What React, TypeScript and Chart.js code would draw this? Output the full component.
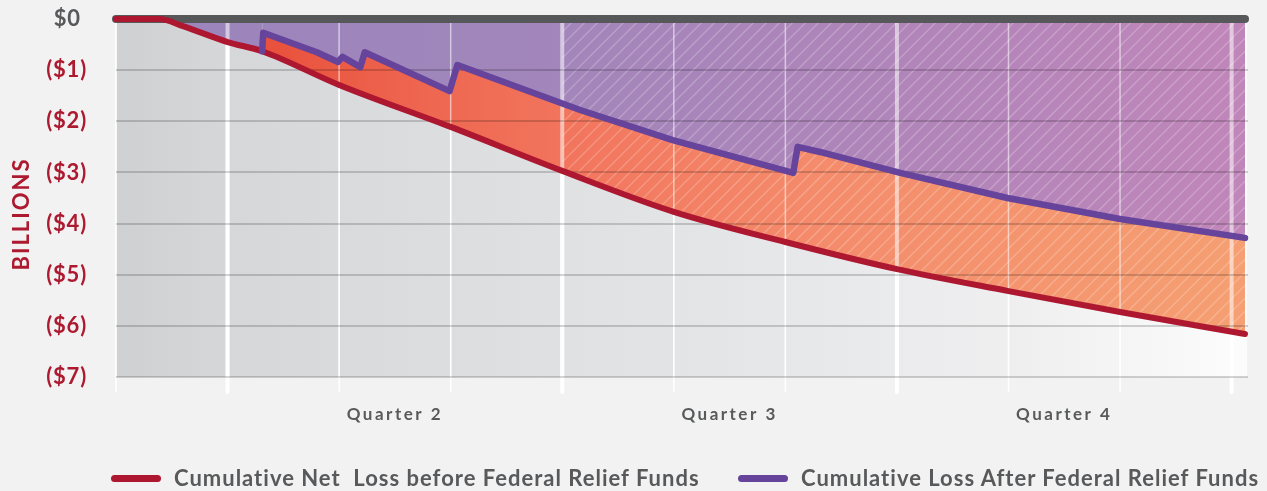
import React, { useEffect, useRef } from 'react';
import { Chart, registerables } from 'chart.js';

Chart.register(...registerables);

// ---- data (x = months from the start of the period, y = billions of dollars) ----
const RED_MONTHS = [0, 0.39, 0.6, 1.0, 1.31, 2.0, 3.0, 4.0, 5.0, 6.0, 7.0, 8.0, 9.0, 10.12];
const RED_VALUES = [0, 0, -0.14, -0.45, -0.63, -1.29, -2.11, -2.97, -3.77, -4.36, -4.89, -5.32, -5.73, -6.16];

const AFTER_MONTHS = [0, 0.39, 0.6, 1.0, 1.31, 1.32, 1.8, 1.99, 2.03, 2.19, 2.23, 2.99, 3.06, 4.16, 4.99, 6.07, 6.11, 6.31, 7.03, 7.99, 9.0, 10.12];
const AFTER_VALUES = [0, 0, -0.14, -0.45, -0.63, -0.27, -0.65, -0.84, -0.74, -0.94, -0.65, -1.41, -0.9, -1.78, -2.37, -3.01, -2.5, -2.6, -3.01, -3.5, -3.91, -4.28];
const AFTER_START = 1.31; // relief funds line becomes visible here

const ZERO_MONTHS = [0, 10.12];
const ZERO_VALUES = [0, 0];

const X_MAX = 10.12;
const Y_TICKS = [0, -1, -2, -3, -4, -5, -6, -7];
const QUARTER_POS = [2.5, 5.5, 8.5];
const QUARTER_LABELS = ['Quarter 2', 'Quarter 3', 'Quarter 4'];
const MONTH_LINES = [0, 1, 2, 3, 4, 5, 6, 7, 8, 9, 10];
const QUARTER_LINES = [1, 4, 7, 10];
const HATCH_FROM = 4;
const LEGEND_LABELS = ['Cumulative Net  Loss before Federal Relief Funds', 'Cumulative Loss After Federal Relief Funds'];

// ---- styles ----
const RED = '#ae1730';
const PURPLE = '#66449c';
const ZERO_GRAY = '#57585a';
const TEXT_GRAY = '#58595b';
const TEXT_RED = '#ad1a30';
const FONT = 'Lato, "Open Sans", sans-serif';

function gradient(chart: any, stops: [number, string][], fallback: string) {
  const a = chart.chartArea;
  if (!a) return fallback;
  const g = chart.ctx.createLinearGradient(a.left, 0, a.right, 0);
  stops.forEach(([o, c]) => g.addColorStop(o, c));
  return g;
}

function spaced(scale: any, method: string, spacing: string, shiftY = 0) {
  const key = '__spaced_' + method;
  if (scale[key]) return;
  scale[key] = true;
  const base = Object.getPrototypeOf(scale)[method];
  scale[method] = function (...args: any[]) {
    const c = this.ctx;
    c.save();
    c.letterSpacing = spacing;
    if (shiftY) c.translate(0, shiftY);
    base.apply(this, args);
    c.restore();
  };
}

const decorPlugin = {
  id: 'decor',
  beforeDraw(chart: any) {
    const { ctx, chartArea: a } = chart;
    const x = chart.scales.x;
    ctx.save();
    ctx.fillStyle = gradient(chart, [[0, '#cfd0d2'], [0.1, '#d6d7d9'], [0.5, '#e3e4e6'], [0.8, '#efeff0'], [1, '#fcfcfc']], '#e0e0e0');
    ctx.fillRect(a.left, a.top, a.right - a.left + 2, a.bottom - a.top);
    ctx.strokeStyle = '#ffffff';
    MONTH_LINES.forEach((m) => {
      const px = x.getPixelForValue(m);
      const thick = QUARTER_LINES.includes(m);
      ctx.lineWidth = thick ? 4 : 1.5;
      ctx.lineCap = thick ? 'round' : 'butt';
      ctx.beginPath();
      ctx.moveTo(px, a.top);
      ctx.lineTo(px, a.bottom + 15);
      ctx.stroke();
    });
    ctx.restore();
  },
  beforeDatasetsDraw(chart: any) {
    const { ctx, chartArea: a } = chart;
    const x = chart.scales.x;
    const y = chart.scales.y;
    const meta = chart.getDatasetMeta(1);
    const x0 = x.getPixelForValue(HATCH_FROM);
    const xEnd = x.getPixelForValue(X_MAX);
    // hatching over the filled areas (above the red line)
    ctx.save();
    ctx.beginPath();
    ctx.rect(x0, a.top, xEnd - x0, a.bottom - a.top);
    ctx.clip();
    ctx.beginPath();
    const pts = meta.data;
    ctx.moveTo(pts[0].x, a.top);
    ctx.lineTo(pts[0].x, pts[0].y);
    for (let i = 1; i < pts.length; i++) {
      const p0 = pts[i - 1];
      const p1 = pts[i];
      if (p0.cp2x !== undefined && p1.cp1x !== undefined) {
        ctx.bezierCurveTo(p0.cp2x, p0.cp2y, p1.cp1x, p1.cp1y, p1.x, p1.y);
      } else {
        ctx.lineTo(p1.x, p1.y);
      }
    }
    ctx.lineTo(pts[pts.length - 1].x, a.top);
    ctx.closePath();
    ctx.clip();
    ctx.strokeStyle = 'rgba(255,255,255,0.22)';
    ctx.lineWidth = 1.5;
    const H = a.bottom - a.top;
    for (let s = x0 - H; s < xEnd; s += 13) {
      ctx.beginPath();
      ctx.moveTo(s, a.bottom);
      ctx.lineTo(s + H, a.top);
      ctx.stroke();
    }
    ctx.restore();
    // vertical month lines over the fills
    ctx.save();
    ctx.beginPath();
    ctx.rect(a.left - 3, a.top, a.right - a.left + 6, a.bottom - a.top);
    ctx.clip();
    ctx.strokeStyle = 'rgba(255,255,255,0.55)';
    MONTH_LINES.forEach((m) => {
      const px = x.getPixelForValue(m);
      ctx.lineWidth = QUARTER_LINES.includes(m) ? 4 : 1.5;
      ctx.beginPath();
      ctx.moveTo(px, a.top);
      ctx.lineTo(px, a.bottom);
      ctx.stroke();
    });
    ctx.restore();
    // horizontal grid lines
    ctx.save();
    ctx.strokeStyle = 'rgba(0,0,0,0.17)';
    ctx.lineWidth = 2;
    Y_TICKS.filter((v) => v !== 0).forEach((v) => {
      const py = Math.round(y.getPixelForValue(v));
      ctx.beginPath();
      ctx.moveTo(a.left, py);
      ctx.lineTo(a.right + 3, py);
      ctx.stroke();
    });
    ctx.restore();
  },
};

const AFTER_START_INDEX = AFTER_MONTHS.indexOf(AFTER_START);

export default function App() {
  const ref = useRef<HTMLCanvasElement | null>(null);

  useEffect(() => {
    if (!ref.current) return;
    const chart = new Chart(ref.current, {
      type: 'line',
      data: {
        datasets: [
          {
            label: LEGEND_LABELS[1],
            data: AFTER_MONTHS.map((m, i) => ({ x: m, y: AFTER_VALUES[i] })),
            borderColor: PURPLE,
            borderWidth: 6.5,
            backgroundColor: (c: any) =>
              gradient(c.chart, [[0, '#9b85bb'], [0.3, '#9f86bb'], [0.5, '#a785ba'], [0.75, '#b385b9'], [1, '#c086b9']], '#a886bb'),
            fill: 'origin',
            order: 1,
            pointRadius: 0,
            borderCapStyle: 'round',
            borderJoinStyle: 'round',
            clip: false,
            segment: {
              borderColor: (c: any) => (c.p0DataIndex < AFTER_START_INDEX ? 'rgba(0,0,0,0)' : PURPLE),
            },
          } as any,
          {
            label: LEGEND_LABELS[0],
            data: RED_MONTHS.map((m, i) => ({ x: m, y: RED_VALUES[i] })),
            borderColor: RED,
            borderWidth: 6,
            backgroundColor: (c: any) =>
              gradient(c.chart, [[0, '#e4432f'], [0.12, '#e84f3a'], [0.27, '#ee6650'], [0.42, '#f2775e'], [0.62, '#f48b6b'], [1, '#f59f72']], '#f08060'),
            fill: '-1',
            order: 2,
            pointRadius: 0,
            cubicInterpolationMode: 'monotone',
            borderCapStyle: 'round',
            borderJoinStyle: 'round',
            clip: false,
          } as any,
          {
            label: 'zero',
            data: ZERO_MONTHS.map((m, i) => ({ x: m, y: ZERO_VALUES[i] })),
            borderColor: ZERO_GRAY,
            borderWidth: 8,
            fill: false,
            order: 3,
            pointRadius: 0,
            borderCapStyle: 'round',
            clip: false,
          } as any,
        ],
      },
      options: {
        animation: false,
        responsive: false,
        devicePixelRatio: 1,
        events: [],
        layout: { padding: { top: 19, right: 22, bottom: 0, left: 0 } },
        plugins: {
          legend: { display: false },
          tooltip: { enabled: false },
          filler: { drawTime: 'beforeDatasetsDraw' },
        } as any,
        scales: {
          x: {
            type: 'linear',
            min: 0,
            max: X_MAX,
            grid: { display: false },
            border: { display: false },
            afterBuildTicks: (s: any) => {
              s.ticks = QUARTER_POS.map((v) => ({ value: v }));
            },
            afterFit: (s: any) => {
              s.height = 114;
              s.paddingLeft = 0;
              s.paddingRight = 0;
              spaced(s, 'drawLabels', '2.5px');
            },
            ticks: {
              autoSkip: false,
              maxRotation: 0,
              padding: 19,
              color: TEXT_GRAY,
              font: { family: FONT, size: 17, weight: 'bold' },
              callback: (v: any) => QUARTER_LABELS[QUARTER_POS.indexOf(Number(v))] ?? '',
            },
          },
          y: {
            type: 'linear',
            min: -7,
            max: 0,
            grid: { display: false },
            border: { display: false },
            afterBuildTicks: (s: any) => {
              s.ticks = Y_TICKS.map((v) => ({ value: v }));
            },
            afterFit: (s: any) => {
              s.width = 116;
              s.paddingTop = 0;
              s.paddingBottom = 0;
              spaced(s, 'drawLabels', '0.8px');
              spaced(s, 'drawTitle', '2px', 16);
            },
            ticks: {
              padding: 21,
              color: (c: any) => (c.tick && c.tick.value === 0 ? TEXT_GRAY : TEXT_RED),
              font: { family: FONT, size: 22, weight: 'bold' },
              callback: (v: any) => (Number(v) === 0 ? '$0 ' : `($${-Number(v)})`),
            },
            title: {
              display: true,
              text: 'BILLIONS',
              color: TEXT_RED,
              font: { family: FONT, size: 22, weight: 'bold' },
              padding: { top: 9, bottom: 0 },
            },
          },
        },
      } as any,
      plugins: [decorPlugin as any],
    });
    return () => chart.destroy();
  }, []);

  const legendItem = (label: string, color: string, left: number) => (
    <div
      key={label}
      style={{ position: 'absolute', left, top: 0, display: 'flex', alignItems: 'center', height: 22 }}
    >
      <span style={{ display: 'inline-block', width: 50, height: 7, borderRadius: 4, background: color, marginRight: 13 }} />
      <span
        style={{
          fontFamily: FONT,
          fontWeight: 700,
          fontSize: 22,
          letterSpacing: '1px',
          color: TEXT_GRAY,
          whiteSpace: 'pre',
          lineHeight: '22px',
        }}
      >
        {label}
      </span>
    </div>
  );

  return (
    <div
      style={{
        position: 'absolute',
        left: 0,
        top: 0,
        width: 1267,
        height: 491,
        background: '#f2f2f2',
        overflow: 'hidden',
      }}
    >
      <canvas ref={ref} width={1267} height={491} style={{ display: 'block' }} />
      <div style={{ position: 'absolute', left: 0, top: 467, width: 1267, height: 22 }}>
        {legendItem(LEGEND_LABELS[0], RED, 111)}
        {legendItem(LEGEND_LABELS[1], PURPLE, 738)}
      </div>
    </div>
  );
}
